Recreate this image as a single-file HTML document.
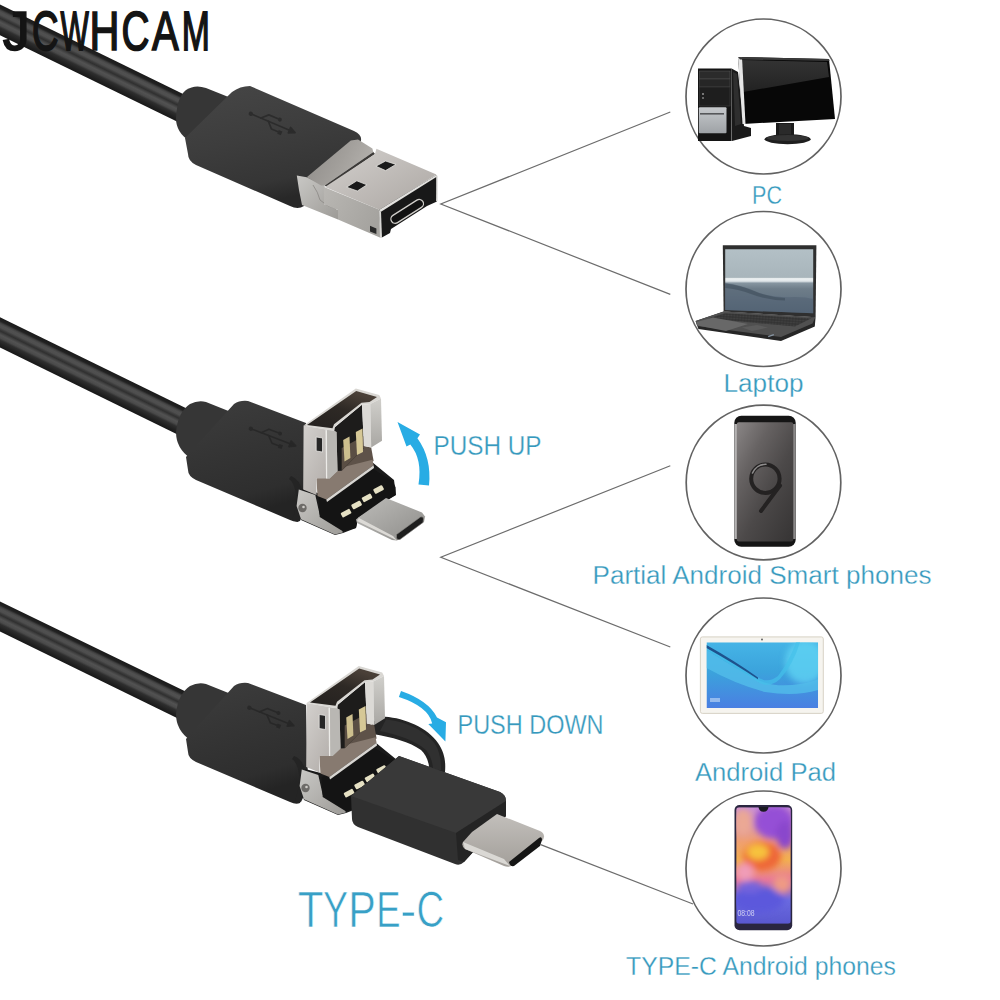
<!DOCTYPE html>
<html><head><meta charset="utf-8">
<style>
html,body{margin:0;padding:0;background:#fff;width:1000px;height:1000px;overflow:hidden}
svg{display:block}
</style></head>
<body>
<svg width="1000" height="1000" viewBox="0 0 1000 1000">
<defs>
  <linearGradient id="cab" x1="0" y1="0" x2="0" y2="1">
    <stop offset="0" stop-color="#181818"/>
    <stop offset="0.1" stop-color="#222"/>
    <stop offset="0.2" stop-color="#434343"/>
    <stop offset="0.27" stop-color="#3e3e3e"/>
    <stop offset="0.34" stop-color="#2f2f2f"/>
    <stop offset="0.43" stop-color="#4a4a4a"/>
    <stop offset="0.5" stop-color="#505050"/>
    <stop offset="0.59" stop-color="#383838"/>
    <stop offset="0.73" stop-color="#272727"/>
    <stop offset="1" stop-color="#151515"/>
  </linearGradient>
  <linearGradient id="hous" x1="0" y1="0" x2="0.3" y2="1">
    <stop offset="0" stop-color="#464646"/>
    <stop offset="0.5" stop-color="#3d3d3d"/>
    <stop offset="0.85" stop-color="#353535"/>
    <stop offset="1" stop-color="#282828"/>
  </linearGradient>
  <linearGradient id="met" x1="0" y1="0" x2="1" y2="1">
    <stop offset="0" stop-color="#d3d0cd"/>
    <stop offset="1" stop-color="#aba6a2"/>
  </linearGradient>
  <linearGradient id="met2" x1="0" y1="0" x2="1" y2="1">
    <stop offset="0" stop-color="#bdbcb9"/>
    <stop offset="1" stop-color="#8e8d8a"/>
  </linearGradient>
  <linearGradient id="tabG" x1="0" y1="0" x2="0" y2="1">
    <stop offset="0" stop-color="#45b4e6"/>
    <stop offset="0.45" stop-color="#3ba3dc"/>
    <stop offset="1" stop-color="#4a7fe2"/>
  </linearGradient>
  <linearGradient id="s9G" x1="0" y1="0" x2="0.9" y2="1">
    <stop offset="0" stop-color="#8a8686"/>
    <stop offset="0.3" stop-color="#666262"/>
    <stop offset="0.6" stop-color="#4c4949"/>
    <stop offset="1" stop-color="#383636"/>
  </linearGradient>
  <linearGradient id="p20G" x1="0" y1="0" x2="0" y2="1">
    <stop offset="0" stop-color="#c98fd8"/>
    <stop offset="0.3" stop-color="#f0a070"/>
    <stop offset="0.45" stop-color="#f2b050"/>
    <stop offset="0.62" stop-color="#e87898"/>
    <stop offset="0.8" stop-color="#6a6ae0"/>
    <stop offset="1" stop-color="#5a58d0"/>
  </linearGradient>
  <linearGradient id="lapG" x1="0" y1="0" x2="0" y2="1">
    <stop offset="0" stop-color="#b3c0c6"/>
    <stop offset="0.44" stop-color="#a8b5bb"/>
    <stop offset="0.46" stop-color="#eef2f3"/>
    <stop offset="0.5" stop-color="#dfe5e8"/>
    <stop offset="0.53" stop-color="#8695a0"/>
    <stop offset="0.62" stop-color="#6e7d89"/>
    <stop offset="1" stop-color="#58697a"/>
  </linearGradient>
  <linearGradient id="met3" x1="0" y1="0" x2="1" y2="1">
    <stop offset="0" stop-color="#c9c8c5"/>
    <stop offset="1" stop-color="#9d9b97"/>
  </linearGradient>
  <linearGradient id="met4" x1="0" y1="0" x2="0" y2="1">
    <stop offset="0" stop-color="#d0cfcb"/>
    <stop offset="1" stop-color="#a9a7a3"/>
  </linearGradient>
  <linearGradient id="met5" x1="0" y1="0" x2="0" y2="1">
    <stop offset="0" stop-color="#c2bfbb"/>
    <stop offset="1" stop-color="#a39f9a"/>
  </linearGradient>
  <linearGradient id="towG" x1="0" y1="0" x2="0" y2="1">
    <stop offset="0" stop-color="#c6c9cc"/>
    <stop offset="1" stop-color="#9ea2a6"/>
  </linearGradient>
  <linearGradient id="monG" x1="0" y1="0" x2="0" y2="1">
    <stop offset="0" stop-color="#333"/>
    <stop offset="1" stop-color="#222"/>
  </linearGradient>
  <filter id="blur3" x="-50%" y="-50%" width="200%" height="200%"><feGaussianBlur stdDeviation="3"/></filter>
  <linearGradient id="bpG" x1="0" y1="0" x2="1" y2="0.4">
    <stop offset="0" stop-color="#8c8986"/>
    <stop offset="0.6" stop-color="#a29f9b"/>
    <stop offset="1" stop-color="#b3b0ac"/>
  </linearGradient>
  <linearGradient id="met6" x1="0" y1="0" x2="1" y2="0.5">
    <stop offset="0" stop-color="#b9b7b3"/>
    <stop offset="1" stop-color="#a5a39f"/>
  </linearGradient>
  <linearGradient id="openG" x1="0" y1="1" x2="0.6" y2="0">
    <stop offset="0" stop-color="#24211f"/>
    <stop offset="0.6" stop-color="#2e2925"/>
    <stop offset="1" stop-color="#4a4038"/>
  </linearGradient>
  <pattern id="keyP" width="3" height="2.6" patternUnits="userSpaceOnUse" patternTransform="rotate(4)">
    <rect width="3" height="2.6" fill="#2c2c2c"/>
    <rect x="0.4" y="0.4" width="2.2" height="1.8" fill="#444"/>
  </pattern>
  <linearGradient id="cab1" gradientUnits="userSpaceOnUse" x1="106.04" y1="56.35" x2="93.96" y2="81.05">
    <stop offset="0" stop-color="#1a1a1a"/>
    <stop offset="0.12" stop-color="#222"/>
    <stop offset="0.19" stop-color="#444"/>
    <stop offset="0.25" stop-color="#505050"/>
    <stop offset="0.33" stop-color="#4e4e4e"/>
    <stop offset="0.4" stop-color="#3a3a3a"/>
    <stop offset="0.45" stop-color="#303030"/>
    <stop offset="0.52" stop-color="#444"/>
    <stop offset="0.58" stop-color="#525252"/>
    <stop offset="0.68" stop-color="#4a4a4a"/>
    <stop offset="0.76" stop-color="#2e2e2e"/>
    <stop offset="0.88" stop-color="#222"/>
    <stop offset="1" stop-color="#181818"/>
  </linearGradient>
  <linearGradient id="cab2" gradientUnits="userSpaceOnUse" x1="105.99" y1="369.04" x2="94.01" y2="393.56">
    <stop offset="0" stop-color="#1a1a1a"/>
    <stop offset="0.12" stop-color="#222"/>
    <stop offset="0.19" stop-color="#444"/>
    <stop offset="0.25" stop-color="#505050"/>
    <stop offset="0.33" stop-color="#4e4e4e"/>
    <stop offset="0.4" stop-color="#3a3a3a"/>
    <stop offset="0.45" stop-color="#303030"/>
    <stop offset="0.52" stop-color="#444"/>
    <stop offset="0.58" stop-color="#525252"/>
    <stop offset="0.68" stop-color="#4a4a4a"/>
    <stop offset="0.76" stop-color="#2e2e2e"/>
    <stop offset="0.88" stop-color="#222"/>
    <stop offset="1" stop-color="#181818"/>
  </linearGradient>
  <linearGradient id="cab3" gradientUnits="userSpaceOnUse" x1="105.99" y1="652.94" x2="94.01" y2="677.46">
    <stop offset="0" stop-color="#1a1a1a"/>
    <stop offset="0.12" stop-color="#222"/>
    <stop offset="0.19" stop-color="#444"/>
    <stop offset="0.25" stop-color="#505050"/>
    <stop offset="0.33" stop-color="#4e4e4e"/>
    <stop offset="0.4" stop-color="#3a3a3a"/>
    <stop offset="0.45" stop-color="#303030"/>
    <stop offset="0.52" stop-color="#444"/>
    <stop offset="0.58" stop-color="#525252"/>
    <stop offset="0.68" stop-color="#4a4a4a"/>
    <stop offset="0.76" stop-color="#2e2e2e"/>
    <stop offset="0.88" stop-color="#222"/>
    <stop offset="1" stop-color="#181818"/>
  </linearGradient>
  <linearGradient id="hous2" x1="0" y1="0" x2="0.3" y2="1">
    <stop offset="0" stop-color="#3d3d3d"/>
    <stop offset="0.5" stop-color="#343434"/>
    <stop offset="0.85" stop-color="#2e2e2e"/>
    <stop offset="1" stop-color="#242424"/>
  </linearGradient>
</defs>

<!-- ===== JCWHCAM ===== -->

<!-- ===== Connector 1 ===== -->
<g id="c1">
  <polygon points="-5,2.06 200,102.3 200,132.8 -5,32.76" fill="url(#cab1)"/>
  <path d="M186,90 Q195,84 206,88 L236,100 L236,150 L190,141 Q176,133 176,118 Q177,97 186,90 Z" fill="#363636"/>
  <path d="M232,92 Q240,86 250,86 L354,131 Q364,136 360,143 L304,206 Q298,210 290,206 L196,165 Q188,161 188,154 L185,138 Z" fill="url(#hous)"/>
  <g transform="translate(249,113) rotate(23)">
  <g fill="none" stroke="#202020" stroke-width="1.7" stroke-linecap="round" stroke-linejoin="round" opacity="0.6">
    <path d="M4,0 L44,0"/>
    <circle cx="2" cy="0" r="2.2" fill="#202020" stroke="none"/>
    <path d="M44,-3 L50,0 L44,3 Z" fill="#202020"/>
    <path d="M13,0 L19,-6 L29,-6"/>
    <circle cx="31" cy="-6" r="2" fill="#202020" stroke="none"/>
    <path d="M21,0 L27,6 L34,6"/>
    <rect x="34" y="4" width="4" height="4" fill="#202020" stroke="none"/>
  </g>
  </g>
  <!-- hinge side -->
  <path d="M296.8,175.5 L306.7,177.3 L324.7,185.4 L324,204 L338,210 L338,219.5 L302,205 L299,190 Z" fill="url(#met3)"/>
  <path d="M313,185 Q318,192 320,200 Q326,206 336,209" fill="none" stroke="#8a8884" stroke-width="0.8"/>
  <!-- back plate -->
  <path d="M306.7,177.3 L350.8,140.4 L358,139.5 L372.4,148.5 L373.3,152.1 L324.7,185.4 L321.1,185.4 Z" fill="url(#bpG)"/>
  <path d="M373.3,152.1 L324.7,185.4 L327,187 L375,154 Z" fill="#3c3a38"/>
  <!-- plug top face -->
  <path d="M325,187 L375,154 L376.4,148.8 L436.4,174.4 L380,210 Z" fill="url(#met)"/>
  <path d="M346.5,187.2 L356.8,180.8 L367,184.8 L357.4,191 Z" fill="#1a1a1a" stroke="#e4e3e0" stroke-width="0.8" stroke-linejoin="round"/>
  <path d="M375.8,166.2 L385.6,161 L396,164.4 L385.6,170.6 Z" fill="#1a1a1a" stroke="#e4e3e0" stroke-width="0.8" stroke-linejoin="round"/>
  <!-- side face -->
  <path d="M324,187 L380,210 L381,238 L338,219.5 L338,210 L324,204 Z" fill="url(#met6)"/>
  <path d="M370,225.8 L376.4,228.5 L376.4,234 L370,231.5 Z" fill="#2a2a2a"/>
  <!-- end face -->
  <path d="M379,210 L436.4,175 L437,201.5 L427,206 L391,229 L390,233 L381,238 Z" fill="#181818"/>
  <path d="M379,210 L436.4,175 L437.2,176.5 L381,211.8 Z" fill="#e2e1de"/>
  <path d="M379,210 L381,211.5 L382,238 L380,238 Z" fill="#d8d7d4"/>
  <path d="M436.4,175 L437.5,176 L437.5,201 L436,201.5 Z" fill="#cfcecb"/>
  <g transform="translate(407.2,211.4) rotate(-32.5)">
    <rect x="-18.5" y="-4.3" width="37" height="8.6" rx="4.3" fill="#111" stroke="#cfcdc9" stroke-width="1.3"/>
  </g>
</g>

<!-- ===== Connector 2 ===== -->
<g id="c2">
  <polygon points="-5,314.76 200,415 200,445.5 -5,345.05" fill="url(#cab2)"/>
  <path d="M190,404 Q198,400 206,402 L236,414 L236,465 L190,458 Q176,448 176,432 Q178,412 190,404 Z" fill="#363636"/>
  <path d="M234,404 Q240,400 248,401 L306,423 L308,500 L300,521 Q296,523 290,520 L196,480 Q188,476 188,470 L186,457 Z" fill="url(#hous2)"/>
  <g transform="translate(249,428) rotate(21)">
  <g fill="none" stroke="#202020" stroke-width="1.7" stroke-linecap="round" stroke-linejoin="round" opacity="0.6">
    <path d="M4,0 L44,0"/>
    <circle cx="2" cy="0" r="2.2" fill="#202020" stroke="none"/>
    <path d="M44,-3 L50,0 L44,3 Z" fill="#202020"/>
    <path d="M13,0 L19,-6 L29,-6"/>
    <circle cx="31" cy="-6" r="2" fill="#202020" stroke="none"/>
    <path d="M21,0 L27,6 L34,6"/>
    <rect x="34" y="4" width="4" height="4" fill="#202020" stroke="none"/>
  </g>
  </g>
</g>
<g id="ub">
  <path d="M298,488 L318,493 L336,470 L372,462 L394,480 L396,495 L358,518 L356,528 L343,533 L335,535 L301,520 L296,506 Z" fill="#1a1a1a"/>
  <path d="M291,476 Q300,479 303,493 Q305,510 298,522 L292,520 Q297,508 296,494 Q294,482 289,479 Z" fill="#242424"/>
  <!-- silver hinge -->
  <path d="M298.8,489.5 L315.3,495 L319.7,514.8 L341.7,526.9 L342.8,532.4 L335,534.6 L301,519.2 L296.6,506 Z" fill="url(#met3)"/>
  <circle cx="302.5" cy="508" r="4.2" fill="#6d6b68"/><circle cx="303.5" cy="507" r="1.3" fill="#cfcdc9"/>
  <!-- black tongue -->
  <path d="M318.6,497.2 L372.5,468.6 L392.3,480.7 L395.6,487.3 L395.6,495 L358.2,517 L356,528 L342.8,531.3 L319.7,517 Z" fill="#141414"/>
  <g fill="#e6e1c4">
    <rect x="-5" y="-2.6" width="10" height="5.2" rx="1" transform="translate(378.6,489.5) rotate(-28)"/>
    <rect x="-5" y="-2.6" width="10" height="5.2" rx="1" transform="translate(367,497.8) rotate(-28)"/>
    <rect x="-5" y="-2.6" width="10" height="5.2" rx="1" transform="translate(356.6,505) rotate(-28)"/>
    <rect x="-5" y="-2.6" width="10" height="5.2" rx="1" transform="translate(346.1,513.2) rotate(-28)"/>
  </g>
  <!-- micro usb -->
  <path d="M359,517 L386,498 L422,512.5 L425,516.5 L424,522 L397,540.5 L392,540 L357,523 L356,519.5 Z" fill="url(#met2)"/>
  <path d="M357,521 L392,538 L397,540.5 L393,536 L359,518 Z" fill="#dcdad6"/>
  <path d="M396.5,534.5 L420.5,517 Q423.5,516 423.5,519 L423,522.5 L400,539.5 Q396.5,540.5 396.5,537.5 Z" fill="#1e1e1e" stroke="#8a8884" stroke-width="0.6"/>
</g>
<g id="box">
  <path d="M339,470 L364,446 L371.2,447.4 L373.6,461 L372.5,461.5 Z" fill="#5e5249"/>
  <!-- ledge plate -->
  <path d="M316.4,478.5 L341.7,467.5 L372.5,459.8 L373.6,465.3 L326.3,499.4 L317.5,496 Z" fill="#877a70"/>
  <path d="M326.3,499.4 L373.6,465.3 L374,468 L327,502 Z" fill="#d8d6d2"/>
  <!-- middle: black tongue + contacts -->
  <path d="M334,428 L362,404.5 L364,448 L341.7,470.8 L337,471 Z" fill="#1d1c1b"/>
  <path d="M341.7,448 L364,436 L364,448 L341.7,470.8 Z" fill="#5a4e44"/>
  <path d="M343.2,440 L349.5,436.5 L350.4,458 L344.5,461.5 Z" fill="#cdbf8e"/>
  <path d="M355.8,432 L362.5,428.5 L363,452 L357,455 Z" fill="#d6c896"/>
  <!-- top rim + opening -->
  <path d="M303.6,425.5 L355.8,388.6 L379.2,394.9 L381,398.5 L370.2,403.9 L362.1,404.8 L335.1,426.4 L334.2,430.9 Z" fill="#d9d7d3"/>
  <path d="M307,425 L356.2,391 L377,397 L369.5,402 L361.5,402.8 L334,424.2 L332.5,428.3 Z" fill="url(#openG)"/>
  <!-- right wall -->
  <path d="M362.1,404.8 L370.2,403.9 L371.2,447.4 L363.8,446 Z" fill="#dcdad6"/>
  <path d="M370.2,403.9 L381,398.5 L382,440.8 L371.2,447.4 Z" fill="url(#met4)"/>
  <!-- front face -->
  <path d="M303.6,425.5 L334.2,430.9 L336.5,432 L337.5,471 L329.6,478.5 L316.4,478.5 L316.5,495 L303.2,489.5 Z" fill="url(#met)"/>
  <path d="M325.5,430 L327,430.3 L327.5,478.5 L326,478.5 Z" fill="#ecebe8"/>
  <path d="M327,430.3 L334.2,430.9 L336.5,432 L337.5,471 L329.6,478.5 L327.5,478.5 Z" fill="#b9b7b3"/>
  <path d="M316.2,437 L322.5,438 L322.5,452 L316.2,451 Z" fill="#262626" stroke="#f0efec" stroke-width="0.7"/>
</g>
<g font-family="Liberation Sans" font-size="55.4" fill="#141414" stroke="#141414" stroke-width="1.5" vector-effect="non-scaling-stroke">
<text transform="translate(2.63,49.8) scale(0.978,1)" vector-effect="non-scaling-stroke">J</text>
<text transform="translate(31.91,49.8) scale(0.663,1)" vector-effect="non-scaling-stroke">C</text>
<text transform="translate(60.59,49.8) scale(0.541,1)" vector-effect="non-scaling-stroke">W</text>
<text transform="translate(89.54,49.8) scale(0.749,1)" vector-effect="non-scaling-stroke">H</text>
<text transform="translate(121.52,49.8) scale(0.698,1)" vector-effect="non-scaling-stroke">C</text>
<text transform="translate(151.98,49.8) scale(0.722,1)" vector-effect="non-scaling-stroke">A</text>
<text transform="translate(181.78,49.8) scale(0.609,1)" vector-effect="non-scaling-stroke">M</text>
</g>

<!-- ===== Connector 3 ===== -->
<g id="c3">
  <polygon points="-5,599.08 200,698.5 200,729.3 -5,629.06" fill="url(#cab3)"/>
  <path d="M190,686 Q198,682 206,684 L236,696 L236,747 L190,740 Q176,730 176,714 Q178,694 190,686 Z" fill="#363636"/>
  <path d="M234,686 Q240,682 248,683 L306,705 L308,782 L300,803 Q296,805 290,802 L196,762 Q188,758 188,752 L186,739 Z" fill="url(#hous2)"/>
  <g transform="translate(247.5,707) rotate(22)">
  <g fill="none" stroke="#202020" stroke-width="1.7" stroke-linecap="round" stroke-linejoin="round" opacity="0.6">
    <path d="M4,0 L44,0"/>
    <circle cx="2" cy="0" r="2.2" fill="#202020" stroke="none"/>
    <path d="M44,-3 L50,0 L44,3 Z" fill="#202020"/>
    <path d="M13,0 L19,-6 L29,-6"/>
    <circle cx="31" cy="-6" r="2" fill="#202020" stroke="none"/>
    <path d="M21,0 L27,6 L34,6"/>
    <rect x="34" y="4" width="4" height="4" fill="#202020" stroke="none"/>
  </g>
  </g>
  <!-- loop cable -->
  <path d="M372,722 L385,716.7 C405,718 428,728 438,743 C444,752 446,760 445,772 L429.4,772 C429.5,762 426,755 421,750 C410,742 392,737 372.7,734 Z" fill="#242424"/>
  <path d="M386,719.5 C405,721 426,731 435,744 C440,752 441,760 441,770 L433,770 C433,762 430,755 426,750 C415,740 398,735 380,731 Z" fill="#303030"/>
  <g transform="translate(3,280)">
    <path d="M298,488 L318,493 L336,470 L372,462 L394,480 L396,495 L358,518 L356,528 L343,533 L335,535 L301,520 L296,506 Z" fill="#1a1a1a"/>
    <path d="M291,476 Q300,479 303,493 Q305,510 298,522 L292,520 Q297,508 296,494 Q294,482 289,479 Z" fill="#242424"/>
    <path d="M298.8,489.5 L315.3,495 L319.7,514.8 L341.7,526.9 L342.8,532.4 L335,534.6 L301,519.2 L296.6,506 Z" fill="url(#met3)"/>
    <circle cx="302.5" cy="508" r="4.2" fill="#6d6b68"/><circle cx="303.5" cy="507" r="1.3" fill="#cfcdc9"/>
    <path d="M318.6,497.2 L372.5,468.6 L392.3,480.7 L395.6,487.3 L395.6,495 L358.2,517 L356,528 L342.8,531.3 L319.7,517 Z" fill="#141414"/>
    <g fill="#e6e1c4">
      <rect x="-5" y="-2.6" width="10" height="5.2" rx="1" transform="translate(378.6,489.5) rotate(-28)"/>
      <rect x="-5" y="-2.6" width="10" height="5.2" rx="1" transform="translate(367,497.8) rotate(-28)"/>
      <rect x="-5" y="-2.6" width="10" height="5.2" rx="1" transform="translate(356.6,505) rotate(-28)"/>
      <rect x="-5" y="-2.6" width="10" height="5.2" rx="1" transform="translate(346.1,513.2) rotate(-28)"/>
    </g>
  </g>
  <use href="#box" transform="translate(3,277.5)"/>
  <!-- type-c box -->
  <path d="M399,756 L500,792 Q506,795 506,801 L506,816 L464,862 Q460,866 455,864 L358,827 Q352,824 352,819 L351,796 Z" fill="#303030"/>
  <path d="M399,756 L500,792 Q506,795 506,801 L456,833 L351,796 Z" fill="#393939"/>
  <path d="M456,833 L506,801 L506,816 L464,862 L458,860 Z" fill="#242424"/>
  <!-- type-c plug -->
  <path d="M497,814 L540,831 Q546,834 543,840 L513,865 Q509,868 504,866 L465,849 Q461,846 463,842 L472,832 Z" fill="url(#met5)"/>
  <path d="M463,842 L504,859 L510,866 L465,849 Z" fill="#dad8d4"/>
  <path d="M509,862 L539,838 Q542,836 542,840 L540,846 L514,866 Q510,867 509,862 Z" fill="#151515"/>
</g>

<!-- ===== Arrows ===== -->
<path d="M397.5,422 L420,434.5 L417.4,438.3 Q431.8,458.1 429,485.5 L418.5,484.4 Q422.6,459.5 410.3,444.6 L406.5,446.5 Z" fill="#28ace4"/>
<path d="M398.9,697 L401,691 Q428.6,700.6 437,717.4 L446,722.2 L445.4,741.4 L428.3,724 L432.2,723.4 Q428.45,706.6 398.9,697 Z" fill="#28ace4"/>

<!-- ===== Lines ===== -->
<g stroke="#6c6c6c" stroke-width="1.2" fill="none">
  <polyline points="670.3,112 440.8,204 670.3,294.4"/>
  <polyline points="670.3,465.7 440.8,557.2 670.3,647"/>
  <line x1="540" y1="844.4" x2="693" y2="904"/>
</g>

<!-- ===== Circles ===== -->
<g stroke="#626262" stroke-width="1.7" fill="none">
  <circle cx="763.5" cy="96.5" r="77.5"/>
  <circle cx="763.5" cy="289" r="77.5"/>
  <circle cx="763.5" cy="482.5" r="77.3"/>
  <circle cx="763.5" cy="675.5" r="77.5"/>
  <circle cx="763.5" cy="868.5" r="77.5"/>
</g>

<!-- PC -->
<g id="pc">
  <!-- tower side -->
  <path d="M731.6,68.5 L738,72 L744,126 L751,128 L751,136 L732,141 Z" fill="#1a1a1a"/>
  <path d="M733,72 L737,74 L741,124 L735,126 Z" fill="#2e2e2e"/>
  <!-- tower front -->
  <rect x="698" y="68.5" width="33.6" height="72.5" fill="#141414"/>
  <rect x="699.5" y="71" width="30.5" height="8" fill="#2b2b2b" stroke="#555" stroke-width="0.6"/>
  <rect x="699.5" y="79" width="30.5" height="8" fill="#262626" stroke="#4a4a4a" stroke-width="0.6"/>
  <rect x="699.5" y="87" width="30.5" height="19" fill="#1e1e1e" stroke="#3c3c3c" stroke-width="0.6"/>
  <rect x="702" y="93" width="2" height="2" fill="#777"/>
  <rect x="702" y="97" width="2" height="2" fill="#666"/>
  <rect x="698.8" y="107.2" width="27.7" height="26" rx="1" fill="url(#towG)"/>
  <rect x="700" y="113" width="24" height="1.6" fill="#55575a"/>
  <!-- monitor -->
  <path d="M738,57 L829,59 L835,119 L743,124 Z" fill="#070707"/>
  <path d="M741,60 L827,62 L829,77 L743,92 Z" fill="url(#monG)"/>
  <path d="M738,57 L742,57.2 L745.5,124 L742.5,124 Z" fill="#e6e6e6"/>
  <path d="M738,57 L829,59 L829.5,61 L740,59.5 Z" fill="#3a3a3a"/>
  <rect x="776" y="123" width="18" height="14" fill="#1a1a1a"/>
  <rect x="779" y="124" width="12" height="11" fill="#2a2a2a"/>
  <ellipse cx="787.6" cy="139.2" rx="23" ry="5" fill="#1e1e1e"/>
  <ellipse cx="787.6" cy="138" rx="21" ry="3" fill="#333"/>
</g>

<!-- Laptop -->
<g id="lap">
  <path d="M722.8,245.2 L816.4,245.2 L815.6,317.2 L723.6,311.6 Z" fill="#2f2f2f"/>
  <path d="M725.2,249.2 L813.2,249.2 L813.2,313.2 L725.2,310 Z" fill="url(#lapG)"/>
  <path d="M725.2,283 Q742,285 757,292 Q772,298 795,297 Q806,297 813.2,299 L813.2,313.2 L725.2,310 Z" fill="#4e5e6e" opacity="0.45"/>
  <path d="M725.2,283.5 Q740,285 754,291 Q768,297 785,298 L785,300.5 Q766,300 751,294 Q738,289 725.2,288 Z" fill="#3c4a58" opacity="0.55"/>
  <path d="M695.6,321 L723.6,311.6 L815.6,317.2 L814.8,326.5 L781,341 L698.4,329 Z" fill="#262626"/>
  <path d="M695.6,321 L723.6,311.6 L815.2,317.4 L812.5,323.5 L781,337 L697.2,326 Z" fill="#505050"/>
  <path d="M708,318.5 L725,313.2 L811.5,318.3 L795,326.5 Z" fill="url(#keyP)"/>
  <path d="M696.5,322 L713,317.5 L748,324 L726,331 L697.5,325.5 Z" fill="#686868"/>
  <path d="M742,327.5 L757,325 L768,327.5 L752,331 Z" fill="#5c5c5c"/>
  <rect x="768" y="335" width="6" height="1.2" fill="#9ab" opacity="0.8" transform="rotate(-20 771 335.6)"/>
</g>

<!-- S9 phone -->
<g id="s9">
  <rect x="734.3" y="415.8" width="61.4" height="131" rx="7" fill="#151515"/>
  <rect x="734.4" y="424" width="2.8" height="115" fill="#b5b3b3"/>
  <rect x="792.8" y="424" width="2.8" height="115" fill="#8a8888"/>
  <rect x="736.8" y="422.3" width="56.5" height="119.2" rx="2" fill="url(#s9G)"/>
  <circle cx="765.4" cy="478.7" r="14.2" fill="none" stroke="#242222" stroke-width="4"/>
  <path d="M752.5,473 A14.2,14.2 0 0 1 766,464.3" fill="none" stroke="#8e8c8c" stroke-width="1.6" stroke-linecap="round"/>
  <line x1="780" y1="485.5" x2="761" y2="511" stroke="#242222" stroke-width="4" stroke-linecap="round"/>
</g>

<!-- Tablet -->
<g id="tab">
  <rect x="700.4" y="636.9" width="122.9" height="76.5" rx="2" fill="#f6f4ef" stroke="#d4cdbf" stroke-width="0.9"/>
  <clipPath id="tabclip"><rect x="706.5" y="642.3" width="111.6" height="65.7"/></clipPath>
  <g clip-path="url(#tabclip)">
    <rect x="706.5" y="642.3" width="111.6" height="65.7" fill="url(#tabG)"/>
    <ellipse cx="805" cy="662" rx="20" ry="22" fill="#62d6f4" opacity="0.75" filter="url(#blur3)"/>
    <path d="M706.5,650 Q735,668 758,680 Q775,688 800,684 Q812,682 818.1,679 L818.1,690 Q795,697 765,692 Q735,684 706.5,668 Z" fill="#52bdea" opacity="0.8"/>
    <path d="M706.5,644.5 Q735,662 757,677 Q768,684 778,676 Q790,660 796,642.3 L800,642.3 Q793,665 780,679 Q768,690 755,680 Q733,666 706.5,650 Z" fill="#44c0ea" opacity="0.7"/>
    <path d="M706.5,645 Q735,661 758,677.5 L758,679.3 Q735,664 706.5,648 Z" fill="#173f7c" opacity="0.85"/>
    <rect x="710" y="698" width="10" height="4" fill="#d6e6fa" opacity="0.55"/>
  </g>
  <circle cx="762" cy="639.5" r="0.9" fill="#555"/>
</g>

<!-- P20 phone -->
<g id="p20">
  <rect x="734.5" y="805" width="57.7" height="125.2" rx="5" fill="#2a2640"/>
  <clipPath id="p20clip"><rect x="736.2" y="807.3" width="54.6" height="116.5" rx="3"/></clipPath>
  <g clip-path="url(#p20clip)">
    <rect x="736.2" y="807.3" width="54.6" height="116.5" fill="url(#p20G)"/>
    <g filter="url(#blur3)">
      <ellipse cx="774" cy="822" rx="20" ry="17" fill="#9550d6"/>
      <ellipse cx="785" cy="835" rx="9" ry="14" fill="#8a46cc"/>
      <ellipse cx="743" cy="822" rx="9" ry="13" fill="#eba894"/>
      <ellipse cx="762" cy="856" rx="19" ry="15" fill="#ee6638"/>
      <ellipse cx="758" cy="852" rx="11" ry="8" fill="#f7c23c"/>
      <ellipse cx="745" cy="872" rx="9" ry="9" fill="#f09cb8"/>
      <ellipse cx="782" cy="884" rx="9" ry="9" fill="#ef9a84"/>
      <ellipse cx="758" cy="900" rx="26" ry="13" fill="#5c58dc"/>
      <ellipse cx="750" cy="887" rx="12" ry="6" fill="#7464dc"/>
    </g>
    <text x="737.5" y="915.5" font-family="Liberation Sans" font-size="8.5" fill="#e8e8f8" opacity="0.8" textLength="17" lengthAdjust="spacingAndGlyphs">08:08</text>
  </g>
  <path d="M758.5,807 L768.5,807 Q768,811.5 763.5,811.8 Q759,811.5 758.5,807 Z" fill="#1a1a22"/>
</g>

<!-- ===== Texts ===== -->
<g font-family="Liberation Sans" fill="#3699bd" stroke="#fff" stroke-width="0.3">
  <text x="752" y="203.5" font-size="26" textLength="30" lengthAdjust="spacingAndGlyphs">PC</text>
  <text x="723.5" y="392" font-size="26" textLength="80" lengthAdjust="spacingAndGlyphs">Laptop</text>
  <text x="592.5" y="583.8" font-size="26" textLength="339" lengthAdjust="spacingAndGlyphs">Partial Android Smart phones</text>
  <text x="695" y="781" font-size="26" textLength="141" lengthAdjust="spacingAndGlyphs">Android Pad</text>
  <text x="626" y="974.5" font-size="26" textLength="270" lengthAdjust="spacingAndGlyphs">TYPE-C Android phones</text>
  <text x="433.5" y="455.2" font-size="28" textLength="108" lengthAdjust="spacingAndGlyphs">PUSH UP</text>
  <text x="457.5" y="733.6" font-size="27.5" textLength="146" lengthAdjust="spacingAndGlyphs">PUSH DOWN</text>
  <g font-size="49.2" fill="#38a0c6" stroke-width="0.6">
<text transform="translate(297.76,926.8) scale(0.856,1)" vector-effect="non-scaling-stroke">T</text>
<text transform="translate(323.06,926.8) scale(0.765,1)" vector-effect="non-scaling-stroke">Y</text>
<text transform="translate(348.14,926.8) scale(0.840,1)" vector-effect="non-scaling-stroke">P</text>
<text transform="translate(376.33,926.8) scale(0.742,1)" vector-effect="non-scaling-stroke">E</text>
<text transform="translate(400.34,926.8) scale(0.983,1)" vector-effect="non-scaling-stroke">-</text>
<text transform="translate(416.55,926.8) scale(0.778,1)" vector-effect="non-scaling-stroke">C</text>
</g>
</g>
</svg>
</body></html>
